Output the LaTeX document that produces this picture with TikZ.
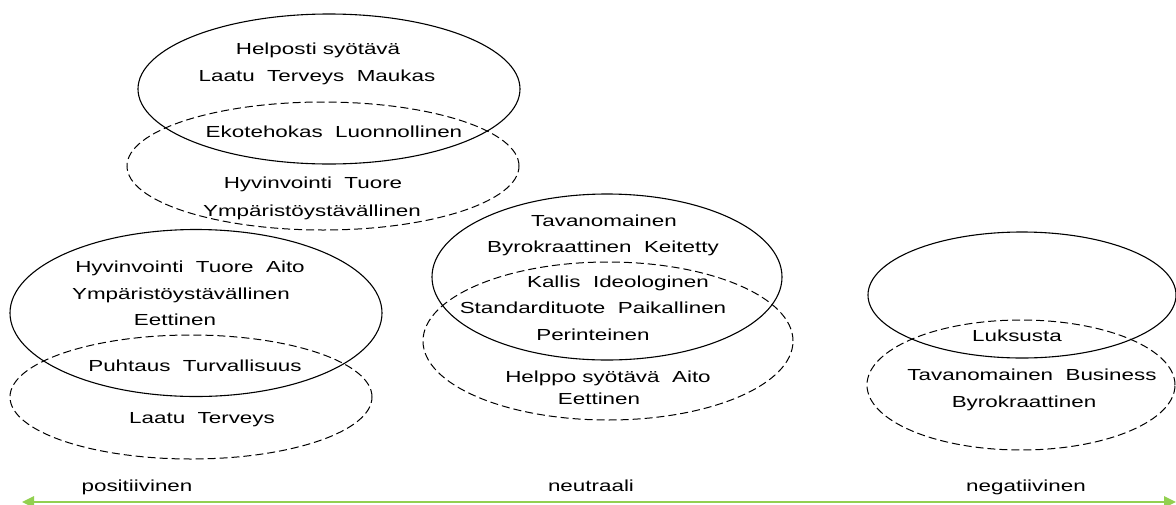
\documentclass[tikz,border=0pt]{standalone}
\usepackage{fontspec}
\setmainfont{Liberation Sans}
\newfontfamily\lblfont[FakeStretch=1.4]{Liberation Sans}
\usetikzlibrary{shapes.geometric,arrows.meta}
\definecolor{axisgreen}{RGB}{146,208,80}
\begin{document}
\begin{tikzpicture}[x=1pt,y=-1pt,
  solidring/.style={draw=black, line width=1.1pt, ellipse, inner sep=0pt, outer sep=0pt},
  dashring/.style={draw=black, line width=1pt, ellipse, inner sep=0pt, outer sep=0pt, dash pattern=on 8pt off 4pt},
  word/.style={inner sep=0pt, font=\lblfont\fontsize{16}{19}\selectfont, text height=11.5pt, text depth=3.5pt},
  axis/.style={draw=axisgreen, line width=2.6pt, {Triangle[length=12pt,width=11pt]}-{Triangle[length=12pt,width=11pt]}}]
\useasboundingbox (0,0) rectangle (1176,504);
\fill[white] (0,0) rectangle (1176,504);

% top cluster
\node[solidring, minimum width=382pt, minimum height=150pt] (topA) at (329,89) {};
\node[dashring, minimum width=392pt, minimum height=128pt] (topB) at (323,166) {};
\node[word] (ta1) at (318,50) {Helposti syötävä};
\node[word] (ta2) at (317,77) {Laatu~~Terveys~~Maukas};
\node[word] (ta3) at (334,133) {Ekotehokas~~Luonnollinen};
\node[word] (ta4) at (313,184) {Hyvinvointi~~Tuore};
\node[word] (ta5) at (312,212) {Ympäristöystävällinen};

% left cluster
\node[solidring, minimum width=372pt, minimum height=167pt] (leftA) at (196,313) {};
\node[dashring, minimum width=362pt, minimum height=124pt] (leftB) at (191,397) {};
\node[word] (la1) at (190,268) {Hyvinvointi~~Tuore~~Aito};
\node[word] (la2) at (181,295) {Ympäristöystävällinen};
\node[word] (la3) at (175,321) {Eettinen};
\node[word] (la4) at (195,367) {Puhtaus~~Turvallisuus};
\node[word] (la5) at (202,419) {Laatu~~Terveys};

% middle cluster
\node[solidring, minimum width=350pt, minimum height=166pt] (midA) at (607,277) {};
\node[dashring, minimum width=370pt, minimum height=158pt] (midB) at (608,341) {};
\node[word] (ma1) at (604,222) {Tavanomainen};
\node[word] (ma2) at (603,248) {Byrokraattinen~~Keitetty};
\node[word] (ma3) at (618,283) {Kallis~~Ideologinen};
\node[word] (ma4) at (593,309) {Standardituote~~Paikallinen};
\node[word] (ma5) at (593,336) {Perinteinen};
\node[word] (ma6) at (608,378) {Helppo syötävä~~Aito};
\node[word] (ma7) at (599,400) {Eettinen};

% right cluster
\node[solidring, minimum width=308pt, minimum height=126pt] (rightA) at (1022,295) {};
\node[dashring, minimum width=308pt, minimum height=130pt] (rightB) at (1021,385) {};
\node[word] (ra1) at (1017,337) {Luksusta};
\node[word] (ra2) at (1032,376) {Tavanomainen~~Business};
\node[word] (ra3) at (1024,403) {Byrokraattinen};

% scale labels and axis
\node[word] (pos) at (137,487) {positiivinen};
\node[word] (neu) at (591,487) {neutraali};
\node[word] (neg) at (1026,487) {negatiivinen};
\coordinate (axL) at (22,502);
\coordinate (axR) at (1176,502);
\draw[axis] (axL) -- (axR);
\end{tikzpicture}
\end{document}
